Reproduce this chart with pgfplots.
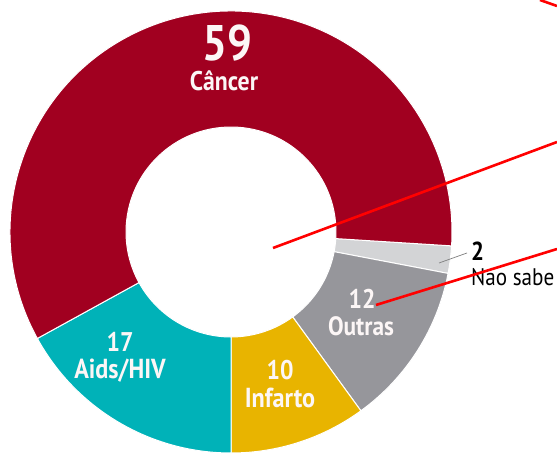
\documentclass[border=0pt]{standalone}
\usepackage{pgfplots}
\pgfplotsset{compat=1.18}
\usepackage{pgfplotstable}
\usetikzlibrary{calc}
\usepackage{fontspec}
\setmainfont[FakeStretch=0.88]{PT Sans}
\definecolor{cCancer}{RGB}{161,0,32}
\definecolor{cAids}{RGB}{0,178,184}
\definecolor{cInfarto}{RGB}{232,180,0}
\definecolor{cOutras}{RGB}{150,150,155}
\definecolor{cNao}{RGB}{211,212,214}
\definecolor{cTxt}{RGB}{252,246,246}

\pgfplotstableread{
name value
NaoSabe 2
Outras 12
Infarto 10
Aids 17
Cancer 59
}\piedata

\newcommand\getval[2]{\pgfplotstablegetelem{#1}{value}\of\piedata\let#2\pgfplotsretval}

\begin{document}
\begin{tikzpicture}
\getval{0}\vA
\getval{1}\vB
\getval{2}\vC
\getval{3}\vD
\getval{4}\vE
\pgfmathsetmacro\aA{-3.6}
\pgfmathsetmacro\aB{\aA-3.6*\vA}
\pgfmathsetmacro\aC{\aB-3.6*\vB}
\pgfmathsetmacro\aD{\aC-3.6*\vC}
\pgfmathsetmacro\aE{\aD-3.6*\vD}
\pgfmathsetmacro\aF{\aE-3.6*\vE}
\def\R{221pt}
\def\r{105pt}
\begin{axis}[
  x=1pt, y=1pt,
  xmin=-231, xmax=326, ymin=-225, ymax=232,
  hide axis, clip=false,
]
\coordinate (SW) at (axis cs:-231,-225);
\coordinate (NE) at (axis cs:326,232);
\path[fill=white] (axis cs:-231,-225) rectangle (axis cs:326,232);
\coordinate (O) at (axis cs:0,0);
\fill[cNao, draw=white, line width=1pt] ($(O)+(\aA:\R)$) arc[start angle=\aA, end angle=\aB, radius=\R] -- ($(O)+(\aB:\r)$) arc[start angle=\aB, end angle=\aA, radius=\r] -- cycle;
\fill[cOutras, draw=white, line width=1pt] ($(O)+(\aB:\R)$) arc[start angle=\aB, end angle=\aC, radius=\R] -- ($(O)+(\aC:\r)$) arc[start angle=\aC, end angle=\aB, radius=\r] -- cycle;
\fill[cInfarto, draw=white, line width=1pt] ($(O)+(\aC:\R)$) arc[start angle=\aC, end angle=\aD, radius=\R] -- ($(O)+(\aD:\r)$) arc[start angle=\aD, end angle=\aC, radius=\r] -- cycle;
\fill[cAids, draw=white, line width=1pt] ($(O)+(\aD:\R)$) arc[start angle=\aD, end angle=\aE, radius=\R] -- ($(O)+(\aE:\r)$) arc[start angle=\aE, end angle=\aD, radius=\r] -- cycle;
\fill[cCancer, draw=white, line width=1pt] ($(O)+(\aE:\R)$) arc[start angle=\aE, end angle=\aF, radius=\R] -- ($(O)+(\aF:\r)$) arc[start angle=\aF, end angle=\aE, radius=\r] -- cycle;

% labels
\node[cTxt, inner sep=0pt] at (axis cs:-3.5,189) {\fontsize{50}{50}\selectfont\bfseries 59};
\node[cTxt, inner sep=0pt] at (axis cs:-7,151) {\fontsize{27}{27}\selectfont\bfseries Câncer};
\node[cTxt, inner sep=0pt] at (axis cs:-111,-110) {\fontsize{27}{27}\selectfont\bfseries 17};
\node[cTxt, inner sep=0pt] at (axis cs:-111,-139) {\fontsize{27.5}{27.5}\selectfont\bfseries Aids/HIV};
\node[cTxt, inner sep=0pt] at (axis cs:49,-138) {\fontsize{27}{27}\selectfont\bfseries 10};
\node[cTxt, inner sep=0pt] at (axis cs:49,-166) {\fontsize{27.5}{27.5}\selectfont\bfseries Infarto};
\node[cTxt, inner sep=0pt] at (axis cs:131,-67) {\fontsize{27}{27}\selectfont\bfseries 12};
\node[cTxt, inner sep=0pt] at (axis cs:130,-94) {\fontsize{26.5}{26.5}\selectfont\bfseries Outras};
\node[black, inner sep=0pt, anchor=west] at (axis cs:240,-19) {\fontsize{26}{26}\selectfont\bfseries 2};
\node[black, inner sep=0pt, anchor=west] at (axis cs:240,-45) {\fontsize{24}{24}\selectfont Nao sabe};
\addplot[gray, line width=0.7pt] coordinates {(208,-31) (236,-21)};
% red annotation lines
\addplot[red, line width=2.6pt] coordinates {(42,-16) (326,90)};
\addplot[red, line width=2.6pt] coordinates {(145,-73) (326,-17)};
\addplot[red, line width=2.6pt] coordinates {(309,232) (326,226)};
\end{axis}
\pgfresetboundingbox
\path[use as bounding box] (SW) rectangle (NE);
\end{tikzpicture}
\end{document}
